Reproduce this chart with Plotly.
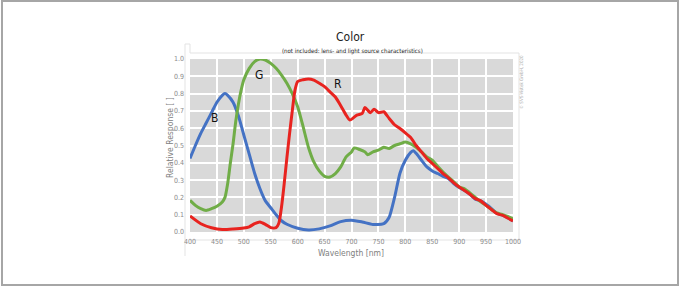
import plotly.graph_objects as go

# ---- data ----
wl_blue = [400, 410, 420, 430, 440, 450, 460, 465, 470, 480, 490, 500, 510, 520, 530, 540, 550, 560, 570, 580, 600, 620, 640, 660, 680, 700, 720, 740, 760, 770, 780, 790, 800, 810, 815, 820, 830, 840, 850, 860, 870, 880, 890, 900, 910, 920, 930, 940, 950, 960, 970, 980, 990, 1000]
blue = [0.425, 0.50, 0.57, 0.63, 0.69, 0.75, 0.79, 0.80, 0.79, 0.75, 0.67, 0.56, 0.45, 0.34, 0.25, 0.18, 0.14, 0.10, 0.065, 0.045, 0.022, 0.012, 0.018, 0.035, 0.06, 0.068, 0.058, 0.044, 0.048, 0.085, 0.20, 0.34, 0.415, 0.46, 0.47, 0.455, 0.415, 0.376, 0.353, 0.338, 0.322, 0.31, 0.28, 0.257, 0.24, 0.218, 0.19, 0.18, 0.16, 0.135, 0.108, 0.097, 0.083, 0.064]

wl_green = [400, 410, 420, 430, 440, 450, 460, 465, 470, 475, 480, 485, 490, 495, 500, 510, 520, 530, 540, 550, 560, 570, 580, 590, 600, 610, 620, 630, 640, 650, 660, 670, 680, 690, 700, 705, 715, 725, 730, 740, 750, 760, 770, 780, 790, 800, 810, 820, 830, 840, 850, 860, 870, 880, 890, 900, 910, 920, 930, 940, 950, 960, 970, 980, 990, 1000]
green = [0.183, 0.154, 0.135, 0.125, 0.135, 0.149, 0.174, 0.20, 0.28, 0.40, 0.51, 0.64, 0.74, 0.82, 0.88, 0.946, 0.985, 1.0, 0.994, 0.975, 0.946, 0.907, 0.86, 0.80, 0.724, 0.61, 0.49, 0.405, 0.353, 0.322, 0.318, 0.338, 0.376, 0.434, 0.463, 0.486, 0.477, 0.463, 0.446, 0.463, 0.473, 0.49, 0.483, 0.50, 0.51, 0.52, 0.51, 0.49, 0.463, 0.434, 0.415, 0.38, 0.347, 0.318, 0.29, 0.26, 0.25, 0.226, 0.20, 0.174, 0.154, 0.13, 0.11, 0.102, 0.09, 0.075]

wl_red = [400, 420, 440, 460, 480, 500, 510, 520, 530, 540, 550, 560, 565, 570, 575, 580, 585, 590, 595, 600, 610, 620, 630, 640, 650, 660, 670, 680, 690, 697, 710, 720, 725, 735, 742, 750, 760, 770, 780, 790, 800, 810, 820, 830, 840, 850, 860, 870, 880, 890, 900, 910, 920, 930, 940, 950, 960, 970, 980, 990, 1000]
red = [0.093, 0.048, 0.025, 0.014, 0.017, 0.023, 0.03, 0.048, 0.058, 0.044, 0.025, 0.025, 0.05, 0.145, 0.28, 0.43, 0.57, 0.70, 0.82, 0.87, 0.88, 0.885, 0.878, 0.86, 0.84, 0.81, 0.78, 0.73, 0.676, 0.647, 0.676, 0.685, 0.72, 0.69, 0.71, 0.69, 0.695, 0.656, 0.62, 0.598, 0.573, 0.546, 0.50, 0.463, 0.425, 0.396, 0.367, 0.338, 0.313, 0.284, 0.26, 0.24, 0.218, 0.193, 0.18, 0.154, 0.13, 0.106, 0.097, 0.081, 0.064]

x_ticks = [400, 450, 500, 550, 600, 650, 700, 750, 800, 850, 900, 950, 1000]
y_ticks = [0.0, 0.1, 0.2, 0.3, 0.4, 0.5, 0.6, 0.7, 0.8, 0.9, 1.0]
y_tick_text = ["0.0", "0.1", "0.2", "0.3", "0.4", "0.5", "0.6", "0.7", "0.8", "0.9", "1.0"]

labels = ["B", "G", "R"]
label_x = [446, 528, 675]
label_y = [0.66, 0.91, 0.855]

FONT = "DejaVu Sans Condensed, Liberation Sans Narrow, sans-serif"
C_BLUE = "#4472C4"
C_GREEN = "#70AD47"
C_RED = "#E8231F"

fig = go.Figure()
for xs, ys, c in [(wl_blue, blue, C_BLUE), (wl_green, green, C_GREEN), (wl_red, red, C_RED)]:
    fig.add_trace(go.Scatter(x=xs, y=ys, mode="lines", line=dict(color=c, width=3, shape="spline", smoothing=0.6),
                             showlegend=False, hoverinfo="skip"))

W, H = 680, 287
L, R, T, B = 190, 167, 59, 55
pw, ph = W - L - R, H - T - B

def px(xp):
    return (xp - L) / pw

def py(yp):
    return (H - B - yp) / ph

fig.update_layout(
    width=W, height=H,
    margin=dict(l=L, r=R, t=T, b=B, pad=0),
    paper_bgcolor="white",
    plot_bgcolor="#d9d9d9",
    font=dict(family=FONT, color="#808080", size=7),
    xaxis=dict(range=[400, 1000], tickvals=x_ticks, ticktext=[str(v) for v in x_ticks],
               showgrid=True, gridcolor="white", gridwidth=1.5, zeroline=False, showline=False,
               ticks="", ticklabelstandoff=4, tickfont=dict(size=7, color="#8a8a8a", family=FONT)),
    yaxis=dict(range=[0, 1.0], tickvals=y_ticks, ticktext=y_tick_text,
               showgrid=True, gridcolor="white", gridwidth=1.5, zeroline=False, showline=False,
               ticks="", ticklabelstandoff=5, tickfont=dict(size=7, color="#8a8a8a", family=FONT)),
)

ann = []
ann.append(dict(text="Color", x=px(350), y=py(37), xref="paper", yref="paper", showarrow=False,
                font=dict(size=12, color="#222222", family=FONT), xanchor="center", yanchor="middle"))
ann.append(dict(text="(not included: lens- and light source characteristics)", x=px(352), y=py(51),
                xref="paper", yref="paper", showarrow=False,
                font=dict(size=6, color="#222222", family=FONT), xanchor="center", yanchor="middle"))
ann.append(dict(text="Wavelength [nm]", x=px(351), y=py(253), xref="paper", yref="paper", showarrow=False,
                font=dict(size=8.5, color="#808080", family=FONT), xanchor="center", yanchor="middle"))
ann.append(dict(text="Relative Response [ ]", x=px(170), y=py(138), xref="paper", yref="paper", showarrow=False,
                textangle=-90, font=dict(size=8.5, color="#808080", family=FONT), xanchor="center", yanchor="middle"))
ann.append(dict(text="© SVS-Vistek GmbH, 2020", x=px(521), y=py(82), xref="paper", yref="paper", showarrow=False,
                textangle=-90, font=dict(size=4.5, color="#aaaaaa", family=FONT), xanchor="center", yanchor="middle"))
for t, lx, ly in zip(labels, label_x, label_y):
    ann.append(dict(text=t, x=lx, y=ly, xref="x", yref="y", showarrow=False,
                    font=dict(size=12, color="#111111", family=FONT), xanchor="center", yanchor="middle"))
fig.update_layout(annotations=ann)

shapes = []
# outer border
shapes.append(dict(type="rect", xref="paper", yref="paper", x0=px(2), x1=px(678), y0=py(285), y1=py(1),
                   line=dict(color="#a6a6a6", width=2), layer="below"))
# light chart frame lines
frame = dict(color="#e3e3e3", width=1)
shapes.append(dict(type="line", xref="paper", yref="paper", x0=px(185), x1=px(185), y0=py(44), y1=py(256), line=frame, layer="below"))
shapes.append(dict(type="line", xref="paper", yref="paper", x0=px(185), x1=px(190), y0=py(44), y1=py(44), line=frame, layer="below"))
shapes.append(dict(type="line", xref="paper", yref="paper", x0=px(190), x1=px(190), y0=py(44), y1=py(53), line=frame, layer="below"))
shapes.append(dict(type="line", xref="paper", yref="paper", x0=px(190), x1=px(519), y0=py(53), y1=py(53), line=frame, layer="below"))
shapes.append(dict(type="line", xref="paper", yref="paper", x0=px(519), x1=px(519), y0=py(53), y1=py(240), line=frame, layer="below"))
shapes.append(dict(type="line", xref="paper", yref="paper", x0=px(190), x1=px(519), y0=py(240), y1=py(240), line=frame, layer="below"))
fig.update_layout(shapes=shapes)

fig.write_html("out.html", config={"displayModeBar": False},
               post_script="document.body.style.margin='0px';document.body.style.overflow='hidden';")
